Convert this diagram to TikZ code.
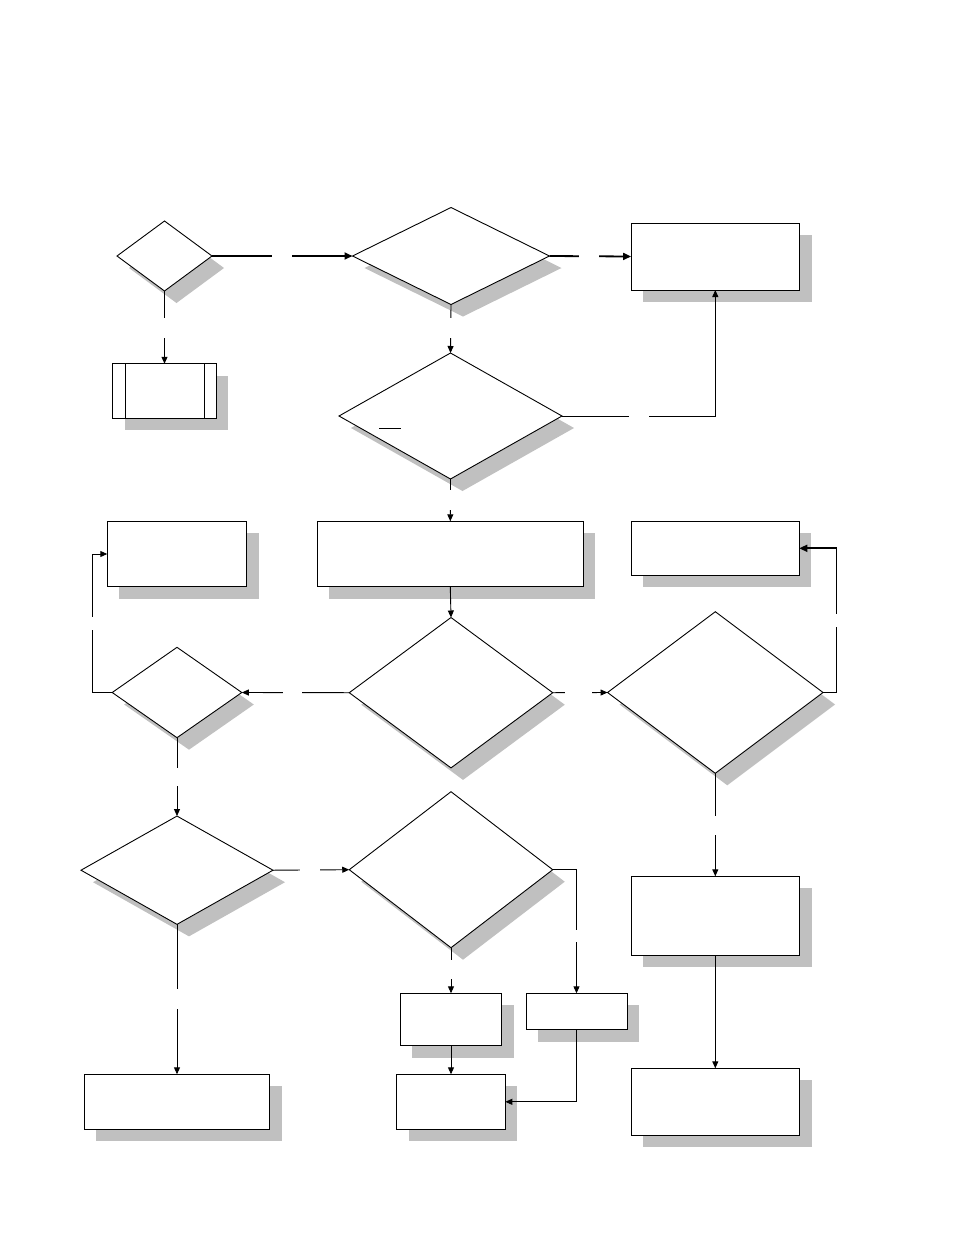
\documentclass[tikz,border=0pt]{standalone}
\usetikzlibrary{shapes.geometric,shadows,arrows.meta}
\definecolor{shadowgray}{RGB}{192,192,192}
\begin{document}
\begin{tikzpicture}[x=1pt,y=-1pt,
  base/.style={draw=black, line width=0.9pt, fill=white, inner sep=0pt, outer sep=0pt,
    drop shadow={shadow xshift=12pt, shadow yshift=-12pt, fill=shadowgray, opacity=1, draw=none}},
  dec/.style={base, diamond},
  box/.style={base, rectangle},
  plain/.style={line width=0.9pt},
  conn/.style={line width=0.9pt, -{Triangle[length=7pt,width=6pt]}},
  thickconn/.style={line width=1.8pt, -{Triangle[length=8pt,width=7pt]}},
  hgap/.style={fill=white, inner sep=0pt, minimum height=5pt, minimum width=#1},
  vgap/.style={fill=white, inner sep=0pt, minimum width=6pt, minimum height=#1}]
\useasboundingbox[fill=white] (0,0) rectangle (954,1235);

% nodes
\node[dec, minimum width=95pt, minimum height=70pt] (D1) at (164.5,256) {};
\node[box, minimum width=103.5pt, minimum height=54.5pt] (SB) at (164.5,391) {};
\draw[plain] ([xshift=13pt]SB.north west) -- ([xshift=13pt]SB.south west);
\draw[plain] ([xshift=-12pt]SB.north east) -- ([xshift=-12pt]SB.south east);
\node[dec, minimum width=197pt, minimum height=97pt] (D2) at (451,256) {};
\node[box, minimum width=168.5pt, minimum height=67pt] (B1) at (715.3,256.5) {};
\node[dec, minimum width=223pt, minimum height=126pt] (D3) at (450.5,416) {};
\draw[plain] (379,428) -- (401,428);
\node[box, minimum width=265.7pt, minimum height=65.4pt] (B2) at (450.3,554) {};
\node[box, minimum width=168pt, minimum height=54pt] (B3) at (715.3,548.3) {};
\node[box, minimum width=139.4pt, minimum height=65.4pt] (B4) at (177,554) {};
\node[dec, minimum width=203.5pt, minimum height=150.4pt] (D4) at (451,692.7) {};
\node[dec, minimum width=215.5pt, minimum height=161.6pt] (D5) at (715.3,692.5) {};
\node[dec, minimum width=129.6pt, minimum height=90.4pt] (D6) at (177,692.5) {};
\node[dec, minimum width=192pt, minimum height=108.3pt] (D7) at (177,870.2) {};
\node[dec, minimum width=203.5pt, minimum height=156pt] (D8) at (451,869.7) {};
\node[box, minimum width=168.4pt, minimum height=79pt] (B5) at (715.3,915.8) {};
\node[box, minimum width=168.4pt, minimum height=67pt] (B6) at (715.3,1101.8) {};
\node[box, minimum width=185.6pt, minimum height=55pt] (B7) at (177,1101.8) {};
\node[box, minimum width=101.8pt, minimum height=52.4pt] (B8) at (451,1019.5) {};
\node[box, minimum width=101pt, minimum height=36.4pt] (B9) at (576.5,1011.5) {};
\node[box, minimum width=108.6pt, minimum height=55pt] (B10) at (451,1101.8) {};

\coordinate (L1) at (92.3,692.5);
\coordinate (R1) at (836.4,692.5);

% connectors
\draw[thickconn] (D1.east) -- (D2.west);
\draw[conn] (D1.south) -- (SB.north);
\draw[thickconn] (D2.east) -- (B1.west);
\draw[conn] (D2.south) -- (D3.north);
\draw[conn] (D3.east) -| (B1.south);
\draw[conn] (D3.south) -- (B2.north);
\draw[conn] (B2.south) -- (D4.north);
\draw[conn] (D4.west) -- (D6.east);
\draw[conn] (D4.east) -- (D5.west);
\draw[conn] (D6.west) -- (L1) |- (B4.west);
\draw[plain] (D5.east) -- (R1);
\draw[thickconn] (R1) |- (B3.east);
\draw[conn] (D5.south) -- (B5.north);
\draw[conn] (B5.south) -- (B6.north);
\draw[conn] (D6.south) -- (D7.north);
\draw[conn] (D7.east) -- (D8.west);
\draw[conn] (D7.south) -- (B7.north);
\draw[conn] (D8.south) -- (B8.north);
\draw[conn] (D8.east) -| (B9.north);
\draw[conn] (B8.south) -- (B10.north);
\draw[conn] (B9.south) |- (B10.east);

% blank label gaps
\node[hgap=20pt] (g1) at (282,256) {};
\node[vgap=20pt] (g2) at (164.5,328) {};
\node[hgap=20pt] (g3) at (589,256) {};
\node[vgap=20pt] (g4) at (451,328) {};
\node[hgap=20pt] (g5) at (639,416) {};
\node[vgap=20pt] (g6) at (451,500) {};
\node[hgap=19pt] (g7) at (292.5,692.5) {};
\node[hgap=27pt] (g8) at (578.5,692.5) {};
\node[vgap=13pt] (g9) at (92.3,623.5) {};
\node[vgap=13pt, minimum width=7pt] (g10) at (836.4,620.5) {};
\node[vgap=19pt] (g11) at (715.3,825.5) {};
\node[vgap=18pt] (g12) at (177,777) {};
\node[hgap=20pt] (g13) at (310,869.5) {};
\node[vgap=20pt] (g14) at (177,999.3) {};
\node[vgap=19pt] (g15) at (451,969.8) {};
\node[vgap=12pt] (g16) at (576.5,936.3) {};
\end{tikzpicture}
\end{document}
